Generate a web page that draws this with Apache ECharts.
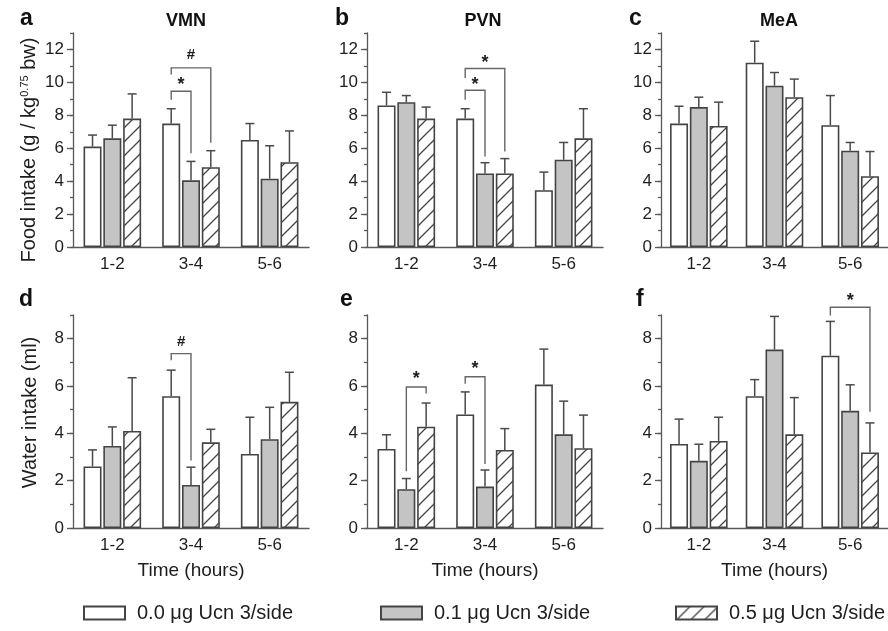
<!DOCTYPE html>
<html>
<head>
<meta charset="utf-8">
<script src="https://cdn.jsdelivr.net/npm/echarts@6/dist/echarts.min.js"></script>
<style>
html, body { margin: 0; padding: 0; background: #fff; }
#chart { width: 888px; height: 631px; }
</style>
</head>
<body>
<div id="chart"></div>
<script>
// categories and groups
const times = ['1-2', '3-4', '5-6'];
const doses = ['0.0 μg Ucn 3/side', '0.1 μg Ucn 3/side', '0.5 μg Ucn 3/side'];
const foodTicks = [0, 2, 4, 6, 8, 10, 12];
const waterTicks = [0, 2, 4, 6, 8];

// means per dose (rows) and time block (cols), errors = SEM (upper bar only)
const vmnFood = [[6.1, 7.5, 6.5], [6.6, 4.05, 4.15], [7.8, 4.85, 5.15]];
const vmnFoodErr = [[0.7, 0.9, 1.0], [0.8, 1.15, 2.0], [1.5, 1.0, 1.9]];
const pvnFood = [[8.6, 7.8, 3.45], [8.8, 4.47, 5.3], [7.8, 4.47, 6.6]];
const pvnFoodErr = [[0.8, 0.6, 1.1], [0.4, 0.65, 1.05], [0.7, 0.9, 1.8]];
const meaFood = [[7.5, 11.2, 7.4], [8.5, 9.8, 5.85], [7.35, 9.1, 4.3]];
const meaFoodErr = [[1.05, 1.3, 1.8], [0.6, 0.8, 0.5], [1.45, 1.1, 1.5]];
const vmnWater = [[2.6, 5.57, 3.13], [3.47, 1.82, 3.75], [4.1, 3.62, 5.33]];
const vmnWaterErr = [[0.7, 1.1, 1.55], [0.8, 0.75, 1.35], [2.25, 0.55, 1.25]];
const pvnWater = [[3.34, 4.8, 6.06], [1.64, 1.75, 3.96], [4.28, 3.3, 3.37]];
const pvnWaterErr = [[0.6, 0.95, 1.5], [0.45, 0.7, 1.4], [1.0, 0.9, 1.4]];
const meaWater = [[3.55, 5.57, 7.28], [2.84, 7.54, 4.95], [3.68, 3.96, 3.19]];
const meaWaterErr = [[1.05, 0.7, 1.45], [0.7, 1.4, 1.1], [1.0, 1.55, 1.25]];

// significance brackets: [time, fromDose, toDose, top, leftEnd, rightEnd, labelY]
const vmnFoodSig = [[1, 0, 1, 9.46, 8.95, 5.7, 10.07], [1, 0, 2, 10.88, 10.48, 6.33, 11.7]];
const vmnFoodSigText = ['*', '#'];
const pvnFoodSig = [[1, 0, 1, 9.52, 8.95, 5.5, 10.07], [1, 0, 2, 10.84, 10.27, 5.8, 11.39]];
const pvnFoodSigText = ['*', '*'];
const vmnWaterSig = [[1, 0, 1, 7.37, 7.09, 2.85, 7.86]];
const vmnWaterSigText = ['#'];
const pvnWaterSig = [[0, 1, 2, 5.96, 2.4, 5.68, 6.46], [1, 0, 1, 6.39, 6.1, 2.7, 6.88]];
const pvnWaterSigText = ['*', '*'];
const meaWaterSig = [[2, 0, 2, 9.33, 8.98, 4.91, 9.75]];
const meaWaterSigText = ['*'];

const TXT = '#1e1e1e';
const LINE = '#595959';
const BAR_W = 18;
const STEP = BAR_W * 1.1;

function hatch() {
  const s = 14;
  const c = document.createElement('canvas');
  c.width = s; c.height = s;
  const g = c.getContext('2d');
  g.fillStyle = '#fff';
  g.fillRect(0, 0, s, s);
  g.strokeStyle = '#444';
  g.lineWidth = 1.3;
  g.beginPath();
  g.moveTo(-2, s + 2); g.lineTo(s + 2, -2);
  g.moveTo(-2, 2); g.lineTo(2, -2);
  g.moveTo(s - 2, s + 2); g.lineTo(s + 2, s - 2);
  g.stroke();
  return c;
}

const barStyles = [
  { color: '#fff', borderColor: '#444', borderWidth: 1.6 },
  { color: '#c4c4c4', borderColor: '#444', borderWidth: 1.6 },
  { color: { image: hatch(), repeat: 'repeat' }, borderColor: '#444', borderWidth: 1.6 }
];

const panels = [
  { letter: 'a', title: 'VMN', means: vmnFood, errs: vmnFoodErr, sig: vmnFoodSig, sigText: vmnFoodSigText, left: 73, row: 0 },
  { letter: 'b', title: 'PVN', means: pvnFood, errs: pvnFoodErr, sig: pvnFoodSig, sigText: pvnFoodSigText, left: 367, row: 0 },
  { letter: 'c', title: 'MeA', means: meaFood, errs: meaFoodErr, sig: [], sigText: [], left: 661, row: 0 },
  { letter: 'd', title: '', means: vmnWater, errs: vmnWaterErr, sig: vmnWaterSig, sigText: vmnWaterSigText, left: 73, row: 1 },
  { letter: 'e', title: '', means: pvnWater, errs: pvnWaterErr, sig: pvnWaterSig, sigText: pvnWaterSigText, left: 367, row: 1 },
  { letter: 'f', title: '', means: meaWater, errs: meaWaterErr, sig: meaWaterSig, sigText: meaWaterSigText, left: 661, row: 1 }
];
const letterPos = [[20, 19], [335, 19], [629, 19], [19, 300], [340, 300], [636, 300]];
const titleX = [186, 483, 779];

const grid = [], xAxis = [], yAxis = [], series = [], graphic = [];

panels.forEach((p, g) => {
  const top = p.row === 0 ? 33 : 315;
  const height = p.row === 0 ? 214 : 213;
  const max = p.row === 0 ? 13 : 9;
  const ticks = p.row === 0 ? foodTicks : waterTicks;
  grid.push({ left: p.left, top: top, width: 236, height: height });
  xAxis.push({
    type: 'category', gridIndex: g, data: times,
    axisLine: { lineStyle: { color: LINE, width: 1.3 } },
    axisTick: { length: 5, lineStyle: { color: LINE, width: 1.3 } },
    axisLabel: { fontSize: 17, color: TXT, margin: 9, fontFamily: 'Liberation Sans' },
    name: p.row === 1 ? 'Time (hours)' : '',
    nameLocation: 'middle', nameGap: 33,
    nameTextStyle: { fontSize: 19, color: TXT, fontFamily: 'Liberation Sans' }
  });
  let yName = '', namePad = [0, 0, 0, 0];
  if (g === 0) { yName = 'Food intake (g / kg{sup|0.75} bw)'; namePad = [0, 20, 0, 0]; }
  if (g === 3) { yName = 'Water intake (ml)'; namePad = [0, 0, 0, 18]; }
  yAxis.push({
    type: 'value', gridIndex: g, min: 0, max: max, interval: 1,
    axisLine: { show: true, lineStyle: { color: LINE, width: 1.3 } },
    axisTick: { show: true, length: 3, lineStyle: { color: LINE, width: 1.3 } },
    axisLabel: {
      fontSize: 17, color: TXT, margin: 9, fontFamily: 'Liberation Sans',
      formatter: v => (v % 2 === 0 ? String(v) : '')
    },
    splitLine: { show: false },
    name: yName, nameLocation: 'middle', nameGap: 33,
    nameTextStyle: {
      fontSize: 20, color: TXT, fontFamily: 'Liberation Sans', padding: namePad,
      rich: { sup: { fontSize: 11, color: TXT, padding: [0, 0, 10, 0], fontFamily: 'Liberation Sans' } }
    }
  });
  // major ticks at even values
  yAxis.push({
    type: 'value', gridIndex: g, min: 0, max: max, interval: 2, position: 'left', offset: 0,
    axisLine: { show: false },
    axisTick: { show: true, length: 6, customValues: ticks, lineStyle: { color: LINE, width: 1.3 } },
    axisLabel: { show: false },
    splitLine: { show: false }
  });

  p.means.forEach((m, k) => {
    series.push({
      type: 'bar', name: doses[k], xAxisIndex: g, yAxisIndex: 2 * g,
      data: m, barWidth: BAR_W, barGap: '10%', itemStyle: barStyles[k], silent: true
    });
  });

  const errData = [];
  p.means.forEach((m, k) => m.forEach((v, i) => errData.push([i, v, p.errs[k][i], k])));
  series.push({
    type: 'custom', xAxisIndex: g, yAxisIndex: 2 * g, data: errData, z: 3, silent: true,
    encode: { x: 0, y: 1 },
    renderItem: (params, api) => {
      const cat = api.value(0), v = api.value(1), e = api.value(2), k = api.value(3);
      const b = api.coord([cat, v]);
      const t = api.coord([cat, v + e]);
      const x = b[0] + (k - 1) * STEP;
      const st = { stroke: '#4a4a4a', lineWidth: 1.5 };
      return {
        type: 'group', children: [
          { type: 'line', shape: { x1: x, y1: b[1], x2: x, y2: t[1] }, style: st },
          { type: 'line', shape: { x1: x - 4.5, y1: t[1], x2: x + 4.5, y2: t[1] }, style: st }
        ]
      };
    }
  });

  if (p.sig.length) {
    series.push({
      type: 'custom', xAxisIndex: g, yAxisIndex: 2 * g, data: p.sig, z: 4, silent: true,
      encode: { x: 0, y: 3 }, clip: false,
      renderItem: (params, api) => {
        const cat = api.value(0), a = api.value(1), b = api.value(2);
        const cx = api.coord([cat, 0])[0];
        const yTop = api.coord([cat, api.value(3)])[1];
        const yL = api.coord([cat, api.value(4)])[1];
        const yR = api.coord([cat, api.value(5)])[1];
        const yT = api.coord([cat, api.value(6)])[1];
        const xL = cx + (a - 1) * STEP, xR = cx + (b - 1) * STEP;
        const label = p.sigText[params.dataIndex];
        return {
          type: 'group', children: [
            { type: 'polyline', shape: { points: [[xL, yL], [xL, yTop], [xR, yTop], [xR, yR]] },
              style: { stroke: '#666', lineWidth: 1.4, fill: null } },
            { type: 'text', x: (xL + xR) / 2, y: yT + (label === '*' ? 4 : 0),
              style: { text: label, fontSize: label === '*' ? 18 : 15, fontWeight: 'bold', fill: TXT,
                align: 'center', verticalAlign: 'middle', fontFamily: 'Liberation Sans' } }
          ]
        };
      }
    });
  }

  graphic.push({
    type: 'text', left: letterPos[g][0], top: letterPos[g][1] - 12,
    style: { text: p.letter, fontSize: 23, fontWeight: 'bold', fill: '#111', fontFamily: 'Liberation Sans' }
  });
  if (p.title) {
    graphic.push({
      type: 'text', x: titleX[g], y: 21,
      style: { text: p.title, fontSize: 18, fontWeight: 'bold', fill: '#111', align: 'center',
        verticalAlign: 'middle', fontFamily: 'Liberation Sans' }
    });
  }
});

const legendLeft = [83, 380, 675];
const legend = doses.map((d, i) => ({
  data: [d], left: legendLeft[i], top: 603, padding: 0, selectedMode: false,
  icon: 'rect', itemWidth: 41, itemHeight: 13,
  textStyle: { fontSize: 20, color: TXT, padding: [0, 0, 0, 7], fontFamily: 'Liberation Sans' }
}));

const chart = echarts.init(document.getElementById('chart'));
chart.setOption({
  animation: false,
  backgroundColor: '#fff',
  grid: grid,
  xAxis: xAxis,
  yAxis: yAxis,
  legend: legend,
  series: series,
  graphic: graphic
});
</script>
</body>
</html>
